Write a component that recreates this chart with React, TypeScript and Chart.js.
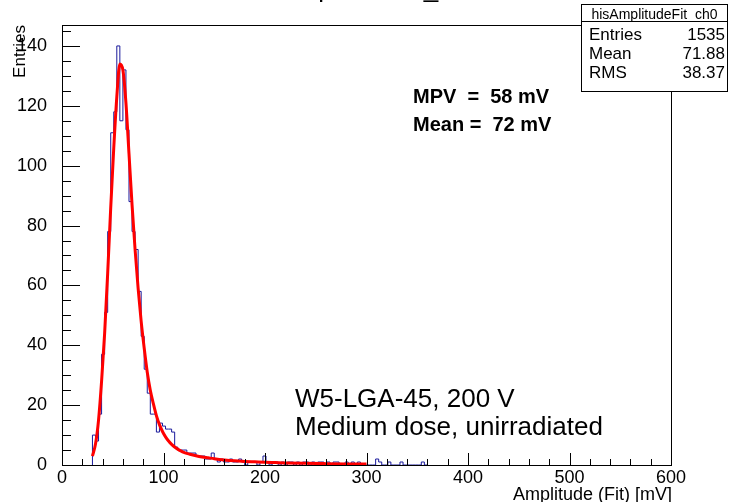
import React, { useEffect, useRef } from "react";
import { Chart, registerables } from "chart.js";

Chart.register(...registerables);

// ---- data ----
const BIN_START = 30; // mV, lower edge of first filled bin
const BIN_WIDTH = 3; // mV
const histCounts = [
  10, 8, 17, 37, 51, 78, 111, 118, 140, 115, 132, 112, 88, 78, 72, 58, 43, 32, 24, 17,
  17, 11, 14, 13, 12, 12, 11, 6, 5, 5, 5, 4, 4, 4, 3, 3, 3, 2, 2, 4,
  2, 1, 2, 1, 1, 2, 1, 1, 2, 1, 0, 1, 1, 1, 0, 1, 3, 1, 0, 1,
  1, 0, 1, 0, 1, 1, 0, 1, 0, 1, 1, 0, 1, 0, 1, 1, 0, 1, 0, 1,
  1, 0, 0, 1, 0, 1, 0, 1, 0, 0, 0, 0, 0, 2, 1, 0, 0, 1, 0, 0,
  0, 1, 0, 0, 0, 0, 0, 0, 1, 0,
];
const fitX = [
  30, 33, 36, 39, 42, 45, 48, 51, 54, 57, 60, 63, 66, 69, 72, 75, 78, 81, 84, 87, 90, 93, 96,
  99, 102, 105, 108, 111, 114, 117, 120, 126, 132, 138, 144, 150, 160, 170, 180, 190, 200,
  210, 220, 240, 260, 280, 300,
];
const fitY = [
  3, 7, 15, 28, 44, 64, 86, 106, 123, 134, 132, 121, 104, 87, 72, 59, 48, 39, 31, 25, 20.5,
  16.5, 13.5, 11.2, 9.4, 8, 6.9, 6, 5.3, 4.7, 4.2, 3.6, 3.1, 2.7, 2.4, 2.1, 1.7, 1.4, 1.2,
  1.05, 0.9, 0.8, 0.7, 0.55, 0.45, 0.37, 0.3,
];
const X_MIN = 0;
const X_MAX = 600;
const X_STEP = 100;
const Y_MIN = 0;
const Y_MAX = 147;
const Y_STEP = 20;

const plotTitle = "hisAmplitudeFit_ch0";
const xTitle = "Amplitude (Fit) [mV]";
const yTitle = "Entries";
const statsName = "hisAmplitudeFit_ch0";
const statsLabels = ["Entries", "Mean", "RMS"];
const statsValues = ["1535", "71.88", "38.37"];
const fitInfo = ["MPV  =  58 mV", "Mean =  72 mV"];
const sampleInfo = ["W5-LGA-45, 200 V", "Medium dose, unirradiated"];

const FONT = "'Liberation Sans', Arial, Helvetica, sans-serif";

const rootPlugin = {
  id: "rootDecor",
  afterDraw(chart: any) {
    const ctx = chart.ctx as CanvasRenderingContext2D;
    const { left, right, top, bottom } = chart.chartArea;
    const xs = chart.scales.x;
    const ys = chart.scales.y;
    ctx.save();
    ctx.strokeStyle = "#000";
    ctx.lineWidth = 1;
    // frame
    ctx.strokeRect(Math.round(left) + 0.5, Math.round(top) + 0.5, Math.round(right - left), Math.round(bottom - top));
    // ticks
    ctx.beginPath();
    for (let v = X_MIN; v <= X_MAX; v += 20) {
      const px = Math.round(xs.getPixelForValue(v)) + 0.5;
      const len = v % 100 === 0 ? 12 : 6;
      ctx.moveTo(px, bottom);
      ctx.lineTo(px, bottom - len);
    }
    for (let v = Y_MIN; v <= Y_MAX; v += 5) {
      const py = Math.round(ys.getPixelForValue(v)) + 0.5;
      const len = v % 20 === 0 ? 18 : 9;
      ctx.moveTo(left, py);
      ctx.lineTo(left + len, py);
    }
    ctx.stroke();

    ctx.fillStyle = "#000";
    // title (mostly out of the canvas)
    ctx.font = `26px ${FONT}`;
    ctx.textAlign = "left";
    ctx.textBaseline = "alphabetic";
    ctx.fillText(plotTitle, 246, -3.5);

    // axis titles
    ctx.font = `18px ${FONT}`;
    ctx.textAlign = "right";
    ctx.fillText(xTitle, right + 1, 500);
    ctx.save();
    ctx.translate(25, top);
    ctx.rotate(-Math.PI / 2);
    ctx.textAlign = "right";
    ctx.font = `17px ${FONT}`;
    ctx.fillText(yTitle, 0, 0);
    ctx.restore();

    // fit info
    ctx.font = `bold 20px ${FONT}`;
    ctx.textAlign = "left";
    ctx.fillText(fitInfo[0], 413, 103);
    ctx.fillText(fitInfo[1], 413, 131);

    // sample info
    ctx.font = `26px ${FONT}`;
    ctx.fillText(sampleInfo[0], 295, 407);
    ctx.fillText(sampleInfo[1], 295, 435);

    // stats box
    const bx = 581.5, by = 4.5, bw = 146, bh = 87;
    ctx.fillStyle = "#fff";
    ctx.fillRect(bx, by, bw, bh);
    ctx.strokeRect(bx, by, bw, bh);
    ctx.beginPath();
    ctx.moveTo(bx, 21.5);
    ctx.lineTo(bx + bw, 21.5);
    ctx.stroke();
    ctx.fillStyle = "#000";
    ctx.font = `14px ${FONT}`;
    ctx.textAlign = "center";
    ctx.fillText(statsName, bx + bw / 2, 18.5);
    ctx.font = `17px ${FONT}`;
    const rowsY = [40, 59, 78];
    statsLabels.forEach((lab, i) => {
      ctx.textAlign = "left";
      ctx.fillText(lab, 589, rowsY[i]);
      ctx.textAlign = "right";
      ctx.fillText(statsValues[i], 725, rowsY[i]);
    });
    ctx.restore();
  },
};

export default function App() {
  const ref = useRef<HTMLCanvasElement | null>(null);
  useEffect(() => {
    if (!ref.current) return;
    const histPts: { x: number; y: number }[] = [{ x: BIN_START, y: 0 }];
    histCounts.forEach((c, i) => histPts.push({ x: BIN_START + i * BIN_WIDTH, y: c }));
    histPts.push({ x: BIN_START + histCounts.length * BIN_WIDTH, y: 0 });
    const fitPts = fitX.map((x, i) => ({ x, y: fitY[i] }));

    const chart = new Chart(ref.current, {
      type: "line",
      data: {
        datasets: [
          {
            data: histPts,
            borderColor: "#1a1a9c",
            borderWidth: 1,
            pointRadius: 0,
            stepped: "before",
            fill: false,
            order: 1,
          },
          {
            data: fitPts,
            borderColor: "#ff0000",
            borderWidth: 3,
            pointRadius: 0,
            cubicInterpolationMode: "monotone",
            fill: false,
            order: 0,
          },
        ],
      },
      options: {
        responsive: false,
        animation: false,
        events: [],
        layout: { padding: { left: 0, right: 64, top: 25, bottom: 0 } },
        plugins: { legend: { display: false }, tooltip: { enabled: false }, title: { display: false } },
        scales: {
          x: {
            type: "linear",
            min: X_MIN,
            max: X_MAX,
            grid: { display: false },
            border: { display: false },
            ticks: {
              stepSize: X_STEP,
              includeBounds: false,
              maxRotation: 0,
              autoSkip: false,
              padding: -6,
              color: "#000",
              font: { family: FONT, size: 18 },
            },
            afterFit: (s: any) => {
              s.height = 37;
            },
          },
          y: {
            type: "linear",
            min: Y_MIN,
            max: Y_MAX,
            grid: { display: false },
            border: { display: false },
            ticks: {
              stepSize: Y_STEP,
              includeBounds: false,
              padding: 7,
              color: "#000",
              font: { family: FONT, size: 18 },
            },
            afterFit: (s: any) => {
              s.width = 62;
            },
          },
        },
      },
      plugins: [rootPlugin],
    } as any);
    return () => chart.destroy();
  }, []);
  return (
    <div style={{ position: "absolute", left: 0, top: 0, width: 735, height: 502, background: "#fff" }}>
      <canvas ref={ref} width={735} height={502} style={{ display: "block" }} />
    </div>
  );
}
